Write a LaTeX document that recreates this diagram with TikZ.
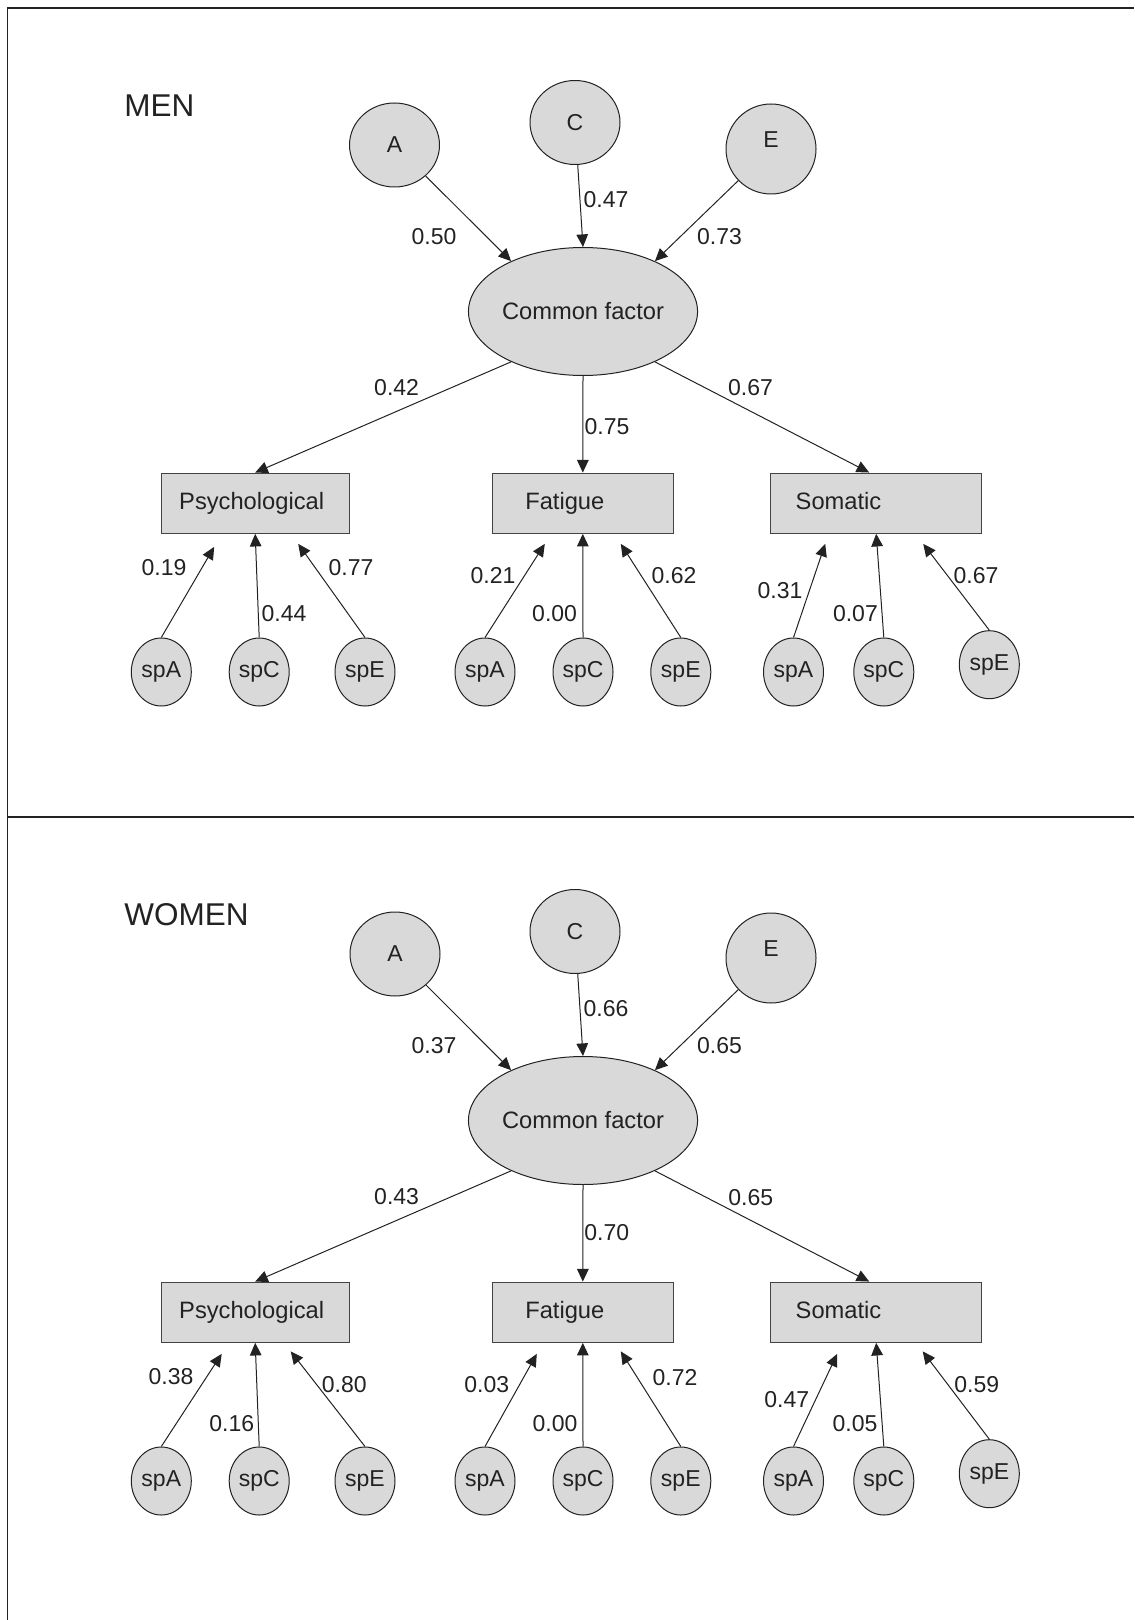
\documentclass[tikz,border=0pt]{standalone}
\usepackage{fontspec}
\setmainfont{Liberation Sans}
\usepackage{xcolor}
\usetikzlibrary{arrows.meta, shapes.geometric, calc}
\definecolor{shade}{HTML}{D9D9D9}
\definecolor{ink}{HTML}{222222}

\begin{document}
\begin{tikzpicture}[
x=0.5pt, y=-0.5pt,
every node/.style={font=\fontsize{11.5}{13}\selectfont, text=ink},
latent/.style={ellipse, draw=ink, fill=shade, line width=0.5pt, inner sep=0pt},
factor/.style={latent, minimum width=45pt, minimum height=42pt},
specific/.style={latent, minimum width=30pt, minimum height=34pt},
common/.style={latent, minimum width=90pt, minimum height=64pt, font=\fontsize{11.85}{14}\selectfont},
symptom/.style={draw=ink!85, fill=shade, line width=0.65pt, minimum height=30pt, align=left, inner ysep=0pt, text height=8.5pt, text depth=2.5pt, font=\fontsize{11.85}{14}\selectfont},
coef/.style={inner sep=0pt},
paneltitle/.style={anchor=west, inner sep=0pt, font=\fontsize{15.75}{18}\selectfont},
load/.style={-{Triangle[length=6.3pt, width=5.8pt]}, line width=0.5pt, draw=ink},
border/.style={line width=0.7pt, draw=ink}
]
\useasboundingbox (0,0) rectangle (1134,1620);
\draw[border] (7.5,1620) -- (7.5,8) -- (1134,8);
\draw[border] (7.5,817) -- (1134,817);
% Men
\node[paneltitle] (t1) at (124,106) {MEN};
\node[factor] (a1) at (394.5,145) {A};
\node[factor] (c1) at (575,122.5) {C};
\node[factor, minimum height=45pt, text depth=9pt] (e1) at (771,149) {E};
\node[common] (cf1) at (583,311.5) {Common factor};
\node[symptom, inner xsep=9pt, text width=76pt] (psy1) at (255.2,503.2) {Psychological};
\node[symptom, inner xsep=16.5pt, text width=57.5pt] (fat1) at (582.8,503.2) {Fatigue};
\node[symptom, inner xsep=12.5pt, text width=80.5pt] (som1) at (876.2,503.2) {Somatic};
\node[specific] (pa1) at (161.3,672) {spA};
\node[specific] (pc1) at (259.2,672) {spC};
\node[specific] (pe1) at (365,672) {spE};
\node[specific] (fa1) at (485,672) {spA};
\node[specific] (fc1) at (583,672) {spC};
\node[specific] (fe1) at (680.8,672) {spE};
\node[specific] (sa1) at (793.5,672) {spA};
\node[specific] (sc1) at (883.8,672) {spC};
\node[specific] (se1) at (989.3,664.7) {spE};
\draw[load] (a1) -- (cf1.145);
\draw[load] (c1) -- (cf1.north);
\draw[load] (e1) -- (cf1.35);
\draw[load] (cf1.215) -- (psy1.north);
\draw[load] (cf1.south) -- (fat1.north);
\draw[load] (cf1.325) -- ($(som1.north)+(-7,0)$);
\draw[load] (pa1.north) -- ($(psy1.south)+(-41,13)$);
\draw[load] (pc1.north) -- (psy1.south);
\draw[load] (pe1.north) -- ($(psy1.south)+(43,10)$);
\draw[load] (fa1.north) -- ($(fat1.south)+(-38,10)$);
\draw[load] (fc1.north) -- (fat1.south);
\draw[load] (fe1.north) -- ($(fat1.south)+(38,10)$);
\draw[load] (sa1.north) -- ($(som1.south)+(-51,10)$);
\draw[load] (sc1.north) -- (som1.south);
\draw[load] (se1.north) -- ($(som1.south)+(47,10)$);
\node[coef] (w-a1) at (434,237) {0.50};
\node[coef] (w-c1) at (606,200) {0.47};
\node[coef] (w-e1) at (719.5,237) {0.73};
\node[coef] (w-psy1) at (396.6,388) {0.42};
\node[coef] (w-fat1) at (607,427) {0.75};
\node[coef] (w-som1) at (750.5,388) {0.67};
\node[coef] (w-pa1) at (164,568) {0.19};
\node[coef] (w-pc1) at (284,614) {0.44};
\node[coef] (w-pe1) at (351,568) {0.77};
\node[coef] (w-fa1) at (493,576) {0.21};
\node[coef] (w-fc1) at (554.6,614) {0.00};
\node[coef] (w-fe1) at (674,576) {0.62};
\node[coef] (w-sa1) at (780,590.7) {0.31};
\node[coef] (w-sc1) at (855.4,614) {0.07};
\node[coef] (w-se1) at (976,576) {0.67};
% Women
\node[paneltitle] (t2) at (124,915) {WOMEN};
\node[factor] (a2) at (395,954) {A};
\node[factor] (c2) at (575,931.5) {C};
\node[factor, minimum height=45pt, text depth=9pt] (e2) at (771,958) {E};
\node[common] (cf2) at (583,1120.5) {Common factor};
\node[symptom, inner xsep=9pt, text width=76pt] (psy2) at (255.2,1312.2) {Psychological};
\node[symptom, inner xsep=16.5pt, text width=57.5pt] (fat2) at (582.8,1312.2) {Fatigue};
\node[symptom, inner xsep=12.5pt, text width=80.5pt] (som2) at (876.2,1312.2) {Somatic};
\node[specific] (pa2) at (161.3,1481) {spA};
\node[specific] (pc2) at (259.2,1481) {spC};
\node[specific] (pe2) at (365,1481) {spE};
\node[specific] (fa2) at (485,1481) {spA};
\node[specific] (fc2) at (583,1481) {spC};
\node[specific] (fe2) at (680.8,1481) {spE};
\node[specific] (sa2) at (793.5,1481) {spA};
\node[specific] (sc2) at (883.8,1481) {spC};
\node[specific] (se2) at (989.3,1473.7) {spE};
\draw[load] (a2) -- (cf2.145);
\draw[load] (c2) -- (cf2.north);
\draw[load] (e2) -- (cf2.35);
\draw[load] (cf2.215) -- (psy2.north);
\draw[load] (cf2.south) -- (fat2.north);
\draw[load] (cf2.325) -- ($(som2.north)+(-7,0)$);
\draw[load] (pa2.north) -- ($(psy2.south)+(-33.5,11)$);
\draw[load] (pc2.north) -- (psy2.south);
\draw[load] (pe2.north) -- ($(psy2.south)+(35.5,8.5)$);
\draw[load] (fa2.north) -- ($(fat2.south)+(-46,11)$);
\draw[load] (fc2.north) -- (fat2.south);
\draw[load] (fe2.north) -- ($(fat2.south)+(38,8.5)$);
\draw[load] (sa2.north) -- ($(som2.south)+(-39,11)$);
\draw[load] (sc2.north) -- (som2.south);
\draw[load] (se2.north) -- ($(som2.south)+(46.5,8.5)$);
\node[coef] (w-a2) at (434,1046) {0.37};
\node[coef] (w-c2) at (606,1009) {0.66};
\node[coef] (w-e2) at (719.5,1046) {0.65};
\node[coef] (w-psy2) at (396.6,1197) {0.43};
\node[coef] (w-fat2) at (606.7,1232.7) {0.70};
\node[coef] (w-som2) at (750.7,1197.3) {0.65};
\node[coef] (w-pa2) at (171,1376.7) {0.38};
\node[coef] (w-pc2) at (231.7,1423.3) {0.16};
\node[coef] (w-pe2) at (344.3,1385) {0.80};
\node[coef] (w-fa2) at (486.7,1385) {0.03};
\node[coef] (w-fc2) at (555,1423.3) {0.00};
\node[coef] (w-fe2) at (675,1377.7) {0.72};
\node[coef] (w-sa2) at (786.7,1400) {0.47};
\node[coef] (w-sc2) at (855,1423.3) {0.05};
\node[coef] (w-se2) at (976.7,1385) {0.59};
\end{tikzpicture}
\end{document}
